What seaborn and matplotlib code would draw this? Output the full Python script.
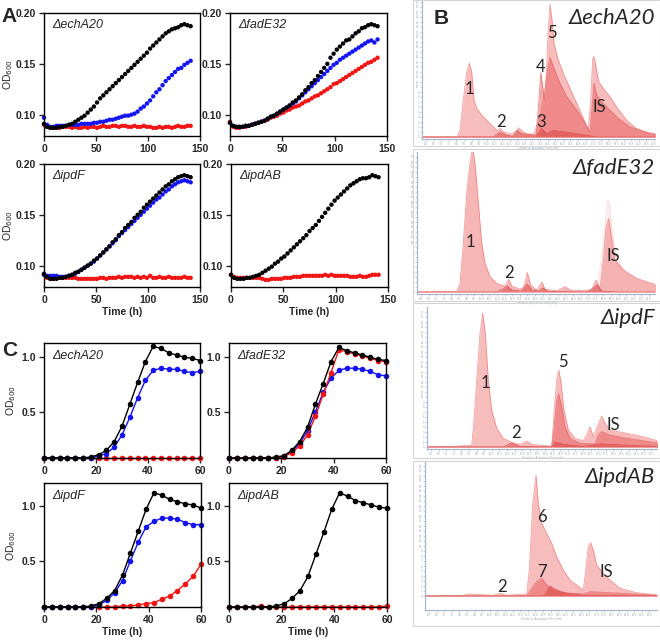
import numpy as np
import pandas as pd
import seaborn as sns
import matplotlib.pyplot as plt
from matplotlib.patches import Rectangle

sns.set_style('ticks')
plt.rcParams['font.family'] = ['Liberation Sans', 'DejaVu Sans']

W, H = 660, 640

# ---------------- panel A: OD600 over 142 h ----------------
a_time = list(range(0, 144, 3))

a_echA20_black = [0.091, 0.088, 0.087, 0.087, 0.087, 0.088, 0.088, 0.089, 0.090, 0.091, 0.093, 0.095,
                  0.097, 0.099, 0.102, 0.105, 0.108, 0.112, 0.116, 0.119, 0.122, 0.125, 0.128, 0.131,
                  0.134, 0.137, 0.140, 0.143, 0.146, 0.149, 0.152, 0.155, 0.158, 0.161, 0.165, 0.168,
                  0.171, 0.174, 0.177, 0.180, 0.182, 0.184, 0.185, 0.186, 0.188, 0.189, 0.188, 0.187]
a_echA20_blue = [0.097, 0.090, 0.088, 0.088, 0.089, 0.089, 0.089, 0.089, 0.090, 0.090, 0.090, 0.090,
                 0.091, 0.091, 0.091, 0.091, 0.092, 0.092, 0.093, 0.093, 0.094, 0.095, 0.095, 0.096,
                 0.097, 0.098, 0.099, 0.099, 0.100, 0.101, 0.103, 0.106, 0.108, 0.111, 0.114, 0.118,
                 0.122, 0.125, 0.129, 0.133, 0.136, 0.139, 0.142, 0.145, 0.146, 0.149, 0.151, 0.153]
a_echA20_red = [0.090, 0.088, 0.087, 0.087, 0.087, 0.087, 0.088, 0.088, 0.088, 0.087, 0.088, 0.087,
                0.087, 0.088, 0.087, 0.088, 0.088, 0.087, 0.088, 0.089, 0.088, 0.088, 0.089, 0.089,
                0.088, 0.089, 0.089, 0.088, 0.088, 0.089, 0.088, 0.088, 0.089, 0.088, 0.088, 0.087,
                0.087, 0.088, 0.087, 0.088, 0.088, 0.087, 0.088, 0.089, 0.088, 0.088, 0.089, 0.089]

a_fadE32_black = [0.092, 0.089, 0.088, 0.088, 0.088, 0.089, 0.089, 0.090, 0.091, 0.092, 0.093, 0.094,
                  0.096, 0.098, 0.099, 0.101, 0.103, 0.105, 0.107, 0.109, 0.112, 0.114, 0.117, 0.120,
                  0.124, 0.127, 0.131, 0.134, 0.138, 0.142, 0.146, 0.150, 0.156, 0.160, 0.164, 0.167,
                  0.170, 0.173, 0.174, 0.177, 0.180, 0.182, 0.185, 0.186, 0.188, 0.189, 0.188, 0.187]
a_fadE32_blue = [0.092, 0.089, 0.088, 0.088, 0.088, 0.089, 0.089, 0.090, 0.091, 0.092, 0.093, 0.094,
                 0.096, 0.098, 0.099, 0.101, 0.103, 0.105, 0.107, 0.109, 0.111, 0.113, 0.116, 0.119,
                 0.122, 0.125, 0.128, 0.131, 0.134, 0.137, 0.140, 0.143, 0.146, 0.149, 0.151, 0.154,
                 0.156, 0.158, 0.160, 0.162, 0.164, 0.166, 0.168, 0.170, 0.172, 0.173, 0.171, 0.174]
a_fadE32_red = [0.093, 0.088, 0.087, 0.087, 0.088, 0.088, 0.089, 0.090, 0.091, 0.092, 0.093, 0.094,
                0.095, 0.097, 0.098, 0.099, 0.101, 0.102, 0.104, 0.105, 0.107, 0.108, 0.109, 0.111,
                0.113, 0.114, 0.116, 0.118, 0.119, 0.121, 0.123, 0.125, 0.127, 0.130, 0.131, 0.133,
                0.135, 0.137, 0.139, 0.141, 0.143, 0.145, 0.147, 0.149, 0.151, 0.152, 0.154, 0.156]

a_ipdF_black = [0.092, 0.089, 0.087, 0.087, 0.087, 0.088, 0.088, 0.089, 0.090, 0.091, 0.093, 0.094,
                0.096, 0.098, 0.100, 0.102, 0.105, 0.107, 0.110, 0.113, 0.116, 0.119, 0.123, 0.126,
                0.130, 0.133, 0.137, 0.140, 0.143, 0.147, 0.150, 0.153, 0.157, 0.160, 0.163, 0.166,
                0.169, 0.172, 0.175, 0.178, 0.180, 0.183, 0.185, 0.187, 0.188, 0.189, 0.188, 0.187]
a_ipdF_blue = [0.091, 0.090, 0.090, 0.090, 0.090, 0.089, 0.089, 0.089, 0.090, 0.091, 0.092, 0.094,
               0.096, 0.098, 0.100, 0.102, 0.104, 0.107, 0.110, 0.113, 0.116, 0.119, 0.122, 0.125,
               0.129, 0.132, 0.135, 0.138, 0.141, 0.144, 0.147, 0.150, 0.153, 0.156, 0.159, 0.162,
               0.165, 0.167, 0.170, 0.173, 0.175, 0.178, 0.180, 0.182, 0.183, 0.184, 0.183, 0.182]
a_ipdF_red = [0.091, 0.088, 0.087, 0.087, 0.088, 0.088, 0.088, 0.088, 0.088, 0.088, 0.088, 0.087,
              0.087, 0.087, 0.087, 0.087, 0.087, 0.087, 0.088, 0.088, 0.087, 0.088, 0.088, 0.088,
              0.089, 0.088, 0.089, 0.089, 0.089, 0.088, 0.089, 0.088, 0.089, 0.088, 0.090, 0.088,
              0.088, 0.089, 0.088, 0.088, 0.089, 0.088, 0.088, 0.088, 0.088, 0.089, 0.088, 0.088]

a_ipdAB_black = [0.091, 0.088, 0.087, 0.087, 0.087, 0.088, 0.088, 0.089, 0.090, 0.091, 0.093, 0.095,
                 0.097, 0.099, 0.102, 0.104, 0.107, 0.109, 0.112, 0.115, 0.118, 0.121, 0.124, 0.127,
                 0.130, 0.134, 0.137, 0.140, 0.144, 0.148, 0.152, 0.156, 0.160, 0.164, 0.167, 0.170,
                 0.173, 0.176, 0.179, 0.181, 0.183, 0.185, 0.186, 0.186, 0.187, 0.189, 0.188, 0.187]
a_ipdAB_red = [0.091, 0.089, 0.088, 0.088, 0.088, 0.088, 0.088, 0.088, 0.088, 0.088, 0.087, 0.086,
               0.086, 0.087, 0.087, 0.087, 0.087, 0.088, 0.088, 0.088, 0.089, 0.089, 0.089, 0.090,
               0.090, 0.090, 0.090, 0.090, 0.090, 0.090, 0.091, 0.090, 0.091, 0.090, 0.090, 0.090,
               0.090, 0.090, 0.089, 0.089, 0.089, 0.090, 0.089, 0.089, 0.090, 0.091, 0.091, 0.091]

# ---------------- panel C: OD600 over 60 h ----------------
c_time = [0, 3, 6, 9, 12, 15, 18, 21, 24, 27, 30, 33, 36, 39, 42, 45, 48, 51, 54, 57, 60]

c_echA20_black = [0.08, 0.08, 0.08, 0.08, 0.08, 0.08, 0.09, 0.11, 0.15, 0.23, 0.37, 0.57, 0.77, 0.96, 1.10, 1.08, 1.04, 1.02, 1.00, 0.99, 0.97]
c_echA20_blue = [0.08, 0.08, 0.08, 0.08, 0.08, 0.08, 0.08, 0.10, 0.12, 0.18, 0.29, 0.45, 0.63, 0.79, 0.88, 0.90, 0.89, 0.89, 0.87, 0.86, 0.87]
c_echA20_red = [0.08, 0.08, 0.08, 0.08, 0.08, 0.08, 0.08, 0.08, 0.08, 0.08, 0.08, 0.08, 0.08, 0.08, 0.08, 0.08, 0.08, 0.08, 0.08, 0.08, 0.08]

c_fadE32_black = [0.08, 0.08, 0.08, 0.08, 0.08, 0.08, 0.09, 0.10, 0.15, 0.23, 0.36, 0.57, 0.76, 0.96, 1.09, 1.06, 1.04, 1.02, 1.00, 0.98, 0.97]
c_fadE32_blue = [0.08, 0.08, 0.08, 0.08, 0.08, 0.08, 0.08, 0.10, 0.14, 0.21, 0.33, 0.50, 0.68, 0.81, 0.88, 0.90, 0.90, 0.89, 0.87, 0.84, 0.83]
c_fadE32_red = [0.08, 0.08, 0.08, 0.08, 0.08, 0.08, 0.08, 0.09, 0.13, 0.19, 0.29, 0.46, 0.66, 0.86, 1.07, 1.05, 1.03, 1.01, 0.99, 0.97, 0.96]

c_ipdF_black = [0.08, 0.08, 0.08, 0.08, 0.08, 0.08, 0.09, 0.11, 0.16, 0.23, 0.37, 0.57, 0.77, 0.97, 1.12, 1.10, 1.06, 1.04, 1.02, 1.01, 0.98]
c_ipdF_blue = [0.08, 0.08, 0.08, 0.08, 0.08, 0.08, 0.08, 0.10, 0.14, 0.21, 0.32, 0.50, 0.67, 0.81, 0.86, 0.89, 0.89, 0.88, 0.85, 0.83, 0.83]
c_ipdF_red = [0.08, 0.08, 0.08, 0.08, 0.08, 0.08, 0.08, 0.08, 0.08, 0.08, 0.09, 0.09, 0.10, 0.11, 0.12, 0.15, 0.18, 0.23, 0.29, 0.36, 0.47]

c_ipdAB_black = [0.08, 0.08, 0.08, 0.08, 0.08, 0.08, 0.09, 0.11, 0.16, 0.23, 0.36, 0.56, 0.76, 0.97, 1.12, 1.09, 1.05, 1.03, 1.01, 0.99, 0.98]
c_ipdAB_red = [0.08, 0.08, 0.08, 0.08, 0.09, 0.08, 0.08, 0.08, 0.08, 0.08, 0.08, 0.08, 0.08, 0.08, 0.08, 0.08, 0.08, 0.08, 0.08, 0.08, 0.09]

# ---------------- panel B: chromatogram traces (x, height above baseline) ----------------
b1_t1_x = [0, 35, 38, 41.3, 44.7, 47.3, 49.7, 52, 54.7, 59.7, 68, 75.3, 78, 81.3, 88, 94, 96.3, 99.7, 104.7, 112,
           119.3, 124, 126, 128, 130, 132, 136.3, 141.3, 148, 154.7, 161.3, 166.3, 168.7, 170.7, 172, 174,
           176.7, 181.3, 188, 194.7, 204.7, 214.7, 228, 240]
b1_t1_y = [0, 0, 7, 37, 65, 74, 65, 37, 28.7, 22, 13.7, 6.3, 8.7, 5.3, 3, 5, 9.3, 6.3, 3, 3,
           27, 53.7, 103.7, 133, 117, 93.7, 77, 63.7, 48.7, 33.7, 18.7, 7, 37, 78.7, 80.3, 70.3,
           55.3, 48.7, 40.3, 30, 16.7, 8.3, 3.3, 2]
b1_t2_x = [0, 114, 116.7, 118.7, 120.7, 122.3, 124, 126, 128, 131.3, 138, 144.7, 154.7, 163, 168, 170.7,
           172, 174, 178, 184.7, 194.7, 208, 228, 240]
b1_t2_y = [0, 0, 33.7, 64.3, 50.3, 37, 57, 70.3, 79.7, 70.3, 53.7, 40.3, 27, 13.7, 5, 37,
           53.7, 43.7, 37, 30, 20, 10, 4, 3]
b1_t3_x = [0, 71, 78, 84.7, 91.3, 94.7, 99.7, 114.7, 119.7, 124.7, 131.3, 154.7, 174.7, 240]
b1_t3_y = [0, 0, 5, 1.7, 0.7, 6.7, 3.3, 1.7, 8.3, 3.3, 6.7, 3.3, 0, 0]

b2_t1_x = [0, 39.7, 43, 46.3, 49.7, 53, 55.7, 58.3, 61.3, 64.7, 68, 73, 79.7, 88, 91.7, 94.7, 103, 107,
           110.3, 113.7, 119.7, 125, 128, 139.7, 148, 154.7, 174.7, 179, 183, 186.3, 189, 191.7, 194.3,
           198, 206.3, 219.7, 240]
b2_t1_y = [0, 0.7, 8.7, 48.7, 98.7, 128.7, 145, 125.3, 88.7, 48.7, 28.7, 15.3, 8.7, 6, 12.7, 6, 2.7, 5.3,
           19.3, 6.7, 1.7, 10, 2.7, 1.3, 5.3, 1.3, 2, 12, 3.7, 32, 65.3, 73.7, 55.3,
           32, 22, 13.7, 6.7]
b2_t2_x = [0, 180, 186.3, 190.3, 192.3, 194.7, 199.7, 209.7, 226.3, 240]
b2_t2_y = [0, 0, 48.7, 92, 88.7, 65.3, 32, 18.7, 10.3, 8]
b2_t3_x = [0, 80, 86, 90, 95, 104, 110, 115, 122, 126, 131, 170, 176, 180, 185, 200, 240]
b2_t3_y = [0, 0, 3, 6, 2, 1, 8, 2, 1, 4, 0.5, 0, 4, 7, 1, 0, 0]

b3_t1_x = [0, 26.3, 44.7, 47, 49.7, 53, 55.7, 58.3, 61.3, 64.7, 69.7, 76.3, 86.3, 93, 99.7, 104.7, 124.7,
           127, 129.7, 131.7, 133.7, 137, 141.3, 148, 156.3, 160.3, 163, 166.3, 170.3, 174.7, 178, 183,
           199.7, 216.3, 231.3]
b3_t1_y = [0, 0.7, 1.7, 27, 67, 113.7, 134, 113.7, 67, 37, 18.7, 8.7, 4, 2.7, 6, 2.7, 0.7,
           33.7, 67, 77, 67, 37, 17, 8.7, 6.3, 13.7, 20.3, 10.3, 20.3, 31, 23.7, 17,
           13.7, 10.3, 6]
b3_t2_x = [0, 124.7, 127, 129.7, 131.7, 134.7, 138, 143, 153, 168, 171.3, 174.7, 183, 199.7, 231.3]
b3_t2_y = [0, 0, 17, 47, 53, 40.3, 20.3, 8.7, 3.7, 3, 12, 15.3, 12, 8.7, 4]
b3_t3_x = [0, 76.3, 84.7, 93, 124.7, 128, 136.3, 156, 173, 200, 231.3]
b3_t3_y = [0, 0, 4, 0.7, 0, 5, 2.7, 0.5, 3.3, 1.7, 0.5]

b4_t1_x = [0, 38.3, 43.3, 68.3, 75, 81.7, 101.7, 104.3, 107.7, 111, 113.3, 116.7, 121.7, 126.7, 131.7,
           138.3, 145, 151.7, 158.3, 160.7, 163.3, 165.7, 168.3, 171.7, 178.3, 185, 195, 211.7, 233.3]
b4_t1_y = [0, 0.7, 2, 0.7, 2.7, 0.7, 2, 26, 92.7, 121, 92.7, 72.7, 62.7, 52.7, 39.3,
           26, 16, 11, 6, 26, 49.3, 53.3, 46, 31, 22.7, 16, 7.7, 3.3, 1]
b4_t2_x = [0, 101.7, 106.7, 111.7, 116.7, 121.7, 128.3, 138.3, 158.3, 165, 185, 233.3]
b4_t2_y = [0, 0, 7.7, 14.3, 17.7, 11, 6, 3.3, 2, 4.3, 3.3, 0.7]
b4_t3_x = [0, 118.3, 121.7, 125, 131.7, 141.7, 158.3, 233.3]
b4_t3_y = [0, 0, 4.3, 10, 6, 2.7, 0.7, 0]

BLACK, BLUE, RED = '#000000', '#1414f0', '#f01414'
pal = {'black': BLACK, 'blue': BLUE, 'red': RED}

fig = plt.figure(figsize=(6.6, 6.4), dpi=100)


def add_ax(x0, y0, x1, y1):
    return fig.add_axes([x0 / W, 1 - y1 / H, (x1 - x0) / W, (y1 - y0) / H])


def ftext(x, y, s, **kw):
    fig.text(x / W, 1 - y / H, s, **kw)


def long_df(t, series):
    rows = []
    for name, vals in series:
        rows.append(pd.DataFrame({'t': t, 'od': vals, 'strain': name}))
    return pd.concat(rows, ignore_index=True)


def style_growth(ax):
    for sp in ax.spines.values():
        sp.set_linewidth(1.0)
        sp.set_color('black')
    ax.tick_params(direction='out', length=3.5, width=1, labelsize=7.5, pad=2,
                   top=False, right=False)
    for lab in ax.get_xticklabels() + ax.get_yticklabels():
        lab.set_fontweight('bold')
    ax.set_xlabel('')
    ax.set_ylabel('')


# ---- panel A ----
a_boxes = [(44, 13, 200, 136), (230, 13, 387, 136), (44, 164, 200, 287), (231, 164, 388, 287)]
a_sets = [
    ('ΔechA20', [('red', a_echA20_red), ('blue', a_echA20_blue), ('black', a_echA20_black)]),
    ('ΔfadE32', [('red', a_fadE32_red), ('blue', a_fadE32_blue), ('black', a_fadE32_black)]),
    ('ΔipdF', [('red', a_ipdF_red), ('blue', a_ipdF_blue), ('black', a_ipdF_black)]),
    ('ΔipdAB', [('red', a_ipdAB_red), ('black', a_ipdAB_black)]),
]
for i, (box, (title, series)) in enumerate(zip(a_boxes, a_sets)):
    ax = add_ax(*box)
    df = long_df(a_time, series)
    sns.scatterplot(data=df, x='t', y='od', hue='strain', palette=pal,
                    hue_order=[s[0] for s in series], s=10, linewidth=0,
                    legend=False, ax=ax, clip_on=False)
    ax.set_xlim(0, 150)
    ax.set_ylim(0.079, 0.20)
    ax.set_xticks([0, 50, 100, 150])
    ax.set_yticks([0.10, 0.15, 0.20])
    ax.set_yticklabels(['0.10', '0.15', '0.20'])
    style_growth(ax)
    ax.text(0.05, 0.9, title, transform=ax.transAxes, fontsize=9, style='italic',
            ha='left', va='center')
    if i % 2 == 0:
        ax.set_ylabel('OD$_{600}$', fontsize=7.5, labelpad=1)
    if i >= 2:
        ax.set_xlabel('Time (h)', fontsize=7.5, labelpad=2, fontweight='bold')

# ---- panel C ----
c_boxes = [(44, 343, 200, 458), (229, 343, 386, 458), (44, 483, 201, 607), (229, 483, 387, 607)]
c_tops = [1.13, 1.13, 1.21, 1.21]
c_sets = [
    ('ΔechA20', [('red', c_echA20_red), ('blue', c_echA20_blue), ('black', c_echA20_black)]),
    ('ΔfadE32', [('blue', c_fadE32_blue), ('red', c_fadE32_red), ('black', c_fadE32_black)]),
    ('ΔipdF', [('red', c_ipdF_red), ('blue', c_ipdF_blue), ('black', c_ipdF_black)]),
    ('ΔipdAB', [('red', c_ipdAB_red), ('black', c_ipdAB_black)]),
]
for i, (box, top, (title, series)) in enumerate(zip(c_boxes, c_tops, c_sets)):
    ax = add_ax(*box)
    df = long_df(c_time, series)
    sns.lineplot(data=df, x='t', y='od', hue='strain', palette=pal,
                 hue_order=[s[0] for s in series], marker='o', markersize=4,
                 markeredgewidth=0, linewidth=1, legend=False, ax=ax)
    for ln in ax.lines:
        ln.set_clip_on(False)
    ax.set_xlim(0, 60)
    ax.set_ylim(0.08, top)
    ax.set_xticks([0, 20, 40, 60])
    ax.set_yticks([0.5, 1.0])
    ax.set_yticklabels(['0.5', '1.0'])
    style_growth(ax)
    ax.text(0.05, 1 - 13 / (box[3] - box[1]), title, transform=ax.transAxes, fontsize=9,
            style='italic', ha='left', va='center')
    if i % 2 == 0:
        ax.set_ylabel('OD$_{600}$', fontsize=7.5, labelpad=3)
    if i >= 2:
        ax.set_xlabel('Time (h)', fontsize=7.5, labelpad=2, fontweight='bold')

# ---- panel B ----
AXIS_BLUE = '#a9b6cf'
b_frames = [(413, 0, 660, 146), (413, 149, 660, 301), (413, 303, 660, 458), (413, 461, 660, 626)]
for fx0, fy0, fx1, fy1 in b_frames:
    fig.add_artist(Rectangle((fx0 / W, 1 - fy1 / H), (fx1 - fx0) / W, (fy1 - fy0) / H,
                             transform=fig.transFigure, fill=False, edgecolor='#d4d4d4', lw=0.8))

b_boxes = [(422, 0, 655, 139), (417, 152, 655, 294), (427, 307, 657, 449), (425, 462, 657, 610)]
b_ylims = [(-2, 137), (-2, 140), (-2, 140), (-14, 134)]
b_traces = [
    [(b1_t1_x, b1_t1_y, '#ee6e6e', 0.45), (b1_t2_x, b1_t2_y, '#e65858', 0.5), (b1_t3_x, b1_t3_y, '#d83c3c', 0.5)],
    [(b2_t1_x, b2_t1_y, '#ee6e6e', 0.5), (b2_t2_x, b2_t2_y, '#f4a0a0', 0.15), (b2_t3_x, b2_t3_y, '#d83c3c', 0.5)],
    [(b3_t1_x, b3_t1_y, '#ee6e6e', 0.45), (b3_t2_x, b3_t2_y, '#e65858', 0.5), (b3_t3_x, b3_t3_y, '#d83c3c', 0.5)],
    [(b4_t1_x, b4_t1_y, '#ee6e6e', 0.45), (b4_t2_x, b4_t2_y, '#e65858', 0.5), (b4_t3_x, b4_t3_y, '#d83c3c', 0.5)],
]
b_titles = ['ΔechA20', 'ΔfadE32', 'ΔipdF', 'ΔipdAB']
b_title_y = [18, 168, 318, 477]
b_labels = [
    [('1', 47, 48), ('2', 79, 15), ('3', 119, 15), ('4', 119, 70), ('5', 130, 104), ('IS', 177, 30)],
    [('1', 53, 50), ('2', 92, 19), ('IS', 196, 36)],
    [('1', 58, 64), ('2', 89, 14), ('5', 136, 85), ('IS', 186, 22)],
    [('6', 117, 79), ('7', 117, 24), ('2', 77, 9), ('IS', 181, 24)],
]
for box, ylim, traces, title, ty, labels in zip(b_boxes, b_ylims, b_traces, b_titles, b_title_y, b_labels):
    ax = add_ax(*box)
    for x, y, col, al in traces:
        ax.fill_between(x, y, 0, color=col, alpha=al, lw=0)
        sns.lineplot(x=x, y=y, color=col, alpha=min(1, al + 0.2), lw=0.6, ax=ax,
                     estimator=None, sort=False)
    ax.set_xlim(0, box[2] - box[0])
    ax.set_ylim(*ylim)
    sns.despine(ax=ax)
    for sp in ('left', 'bottom'):
        ax.spines[sp].set_color(AXIS_BLUE)
        ax.spines[sp].set_linewidth(0.9)
    ax.set_xticks(np.arange(4, box[2] - box[0], 7.6))
    ax.set_xticklabels(['%.1f' % (6 + 0.5 * k) for k in range(len(ax.get_xticks()))])
    ax.set_yticks(np.arange(0, ylim[1], 5))
    ax.set_yticklabels(['%d' % k for k in range(len(ax.get_yticks()))])
    ax.tick_params(colors=AXIS_BLUE, labelcolor='#9aa3b5', labelsize=2, length=1.5,
                   width=0.5, pad=0.5)
    ax.set_xlabel('Counts vs. Acquisition Time (min)', fontsize=2, color='#9aa3b5', labelpad=0.5)
    ax.set_ylabel('')
    for s, lx, ly in labels:
        ax.text(lx, ly, s, fontsize=12, ha='center', va='center',
                family=['Lato', 'DejaVu Sans'])
    ftext(655, ty, title, fontsize=16, style='italic', ha='right', va='center',
          family=['Lato', 'DejaVu Sans'])

# panel letters
ftext(9, 17, 'A', fontsize=15, weight='bold', ha='center', va='center')
ftext(441, 18, 'B', fontsize=15, weight='bold', ha='center', va='center')
ftext(10, 350, 'C', fontsize=15, weight='bold', ha='center', va='center')

fig.savefig('out.png', dpi=100)
